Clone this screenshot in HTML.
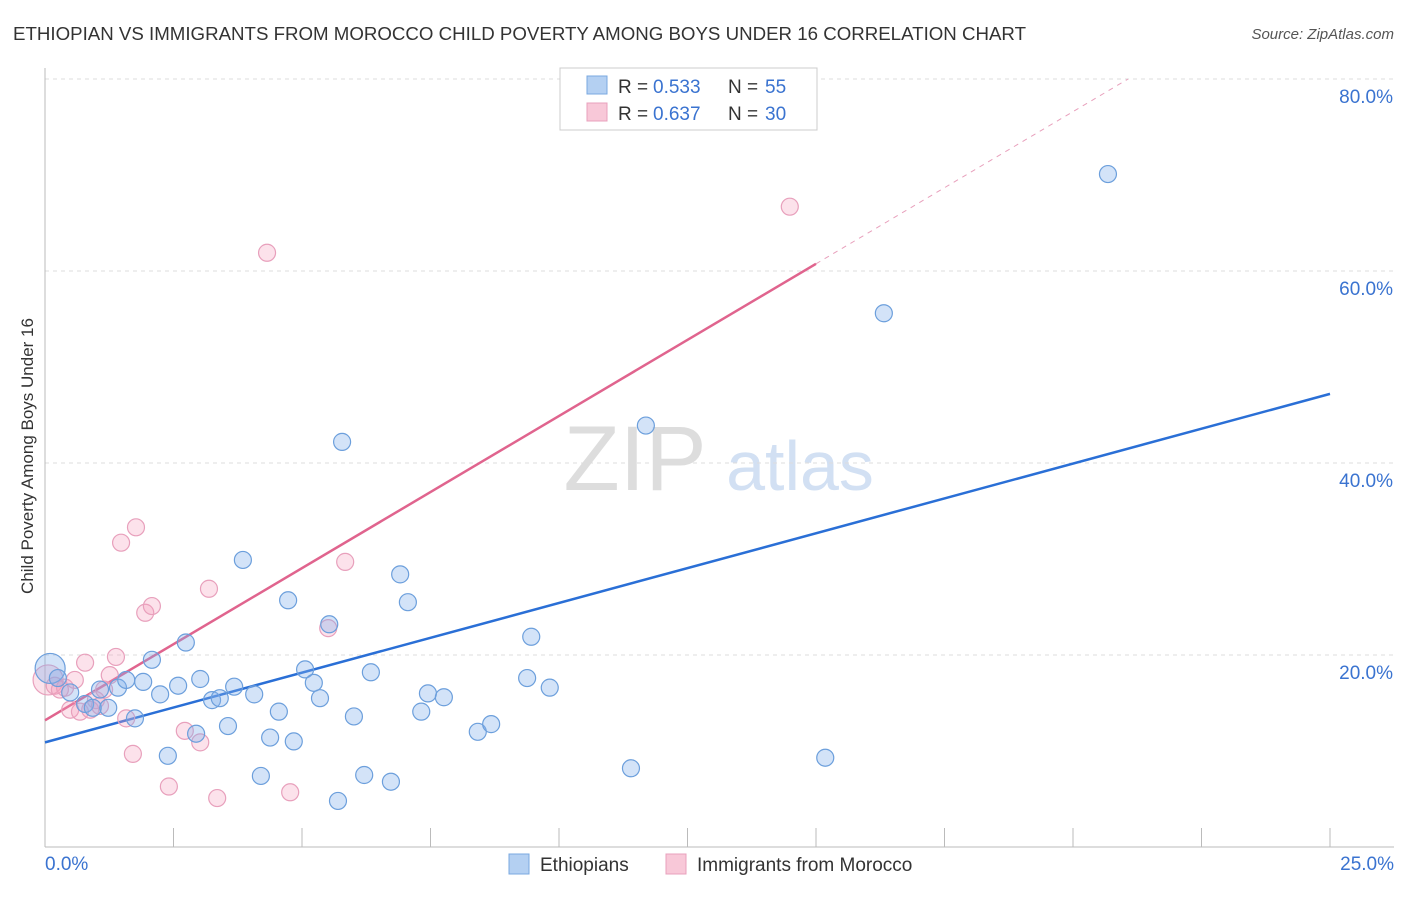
<!DOCTYPE html>
<html><head><meta charset="utf-8"><style>
body{margin:0;background:#fff;font-family:"Liberation Sans",sans-serif;}
svg text{font-family:"Liberation Sans",sans-serif;}
</style></head><body>
<svg id="chart" width="1406" height="892" xmlns="http://www.w3.org/2000/svg">
<text x="13" y="40" font-size="18" fill="#333" textLength="1013" lengthAdjust="spacingAndGlyphs">ETHIOPIAN VS IMMIGRANTS FROM MOROCCO CHILD POVERTY AMONG BOYS UNDER 16 CORRELATION CHART</text>
<text x="1394" y="39" font-size="15" fill="#555" text-anchor="end" font-style="italic">Source: ZipAtlas.com</text>
<text transform="translate(33,456) rotate(-90)" font-size="17" fill="#333" text-anchor="middle">Child Poverty Among Boys Under 16</text>
<g><text x="635" y="490" font-size="92" fill="#ddd" text-anchor="middle" font-family="Liberation Serif">ZIP</text><text x="800" y="490" font-size="70" fill="#d2e0f3" text-anchor="middle">atlas</text></g>
<g id="grid"></g><g id="lines"></g><g id="pts"></g>
<g>
<rect x="560" y="68" width="257" height="62" fill="#fff" stroke="#ccc"/>
<rect x="587" y="76" width="20" height="18" fill="#b4d0f2" stroke="#7aa8e0"/>
<text x="618" y="93" font-size="19" fill="#333">R =</text><text x="653" y="93" font-size="19" fill="#3a73d0">0.533</text>
<text x="728" y="93" font-size="19" fill="#333">N =</text><text x="765" y="93" font-size="19" fill="#3a73d0">55</text>
<rect x="587" y="103" width="20" height="18" fill="#f8c8d8" stroke="#e8a0bc"/>
<text x="618" y="120" font-size="19" fill="#333">R =</text><text x="653" y="120" font-size="19" fill="#3a73d0">0.637</text>
<text x="728" y="120" font-size="19" fill="#333">N =</text><text x="765" y="120" font-size="19" fill="#3a73d0">30</text>
</g>
<g>
<rect x="509" y="854" width="20" height="20" fill="#b4d0f2" stroke="#7aa8e0"/>
<text x="540" y="871" font-size="19" fill="#333">Ethiopians</text>
<rect x="666" y="854" width="20" height="20" fill="#f8c8d8" stroke="#e8a0bc"/>
<text x="697" y="871" font-size="19" fill="#333">Immigrants from Morocco</text>
</g>
</svg>
<script>
const yTicks=[20,40,60,80];
const blueX=[0.10,0.25,0.49,0.78,0.93,1.07,1.23,1.42,1.58,1.75,1.91,2.08,2.24,2.39,2.59,2.74,2.94,3.02,3.25,3.40,3.56,3.68,3.85,4.07,4.20,4.38,4.55,4.73,4.84,5.06,5.23,5.35,5.53,5.70,5.78,6.01,6.21,6.34,6.73,6.91,7.06,7.32,7.45,7.76,8.42,8.68,9.38,9.46,9.82,11.40,11.69,15.18,16.32,20.68];
const blueY=[18.6,17.6,16.1,14.9,14.5,16.4,14.5,16.6,17.4,13.4,17.2,19.5,15.9,9.5,16.8,21.3,11.8,17.5,15.3,15.5,12.6,16.7,29.9,15.9,7.4,11.4,14.1,25.7,11.0,18.5,17.1,15.5,23.2,4.8,42.2,13.6,7.5,18.2,6.8,28.4,25.5,14.1,16.0,15.6,12.0,12.8,17.6,21.9,16.6,8.2,43.9,9.3,55.6,70.1];
const pinkX=[0.06,0.19,0.29,0.39,0.49,0.58,0.68,0.78,0.88,0.99,1.07,1.15,1.26,1.38,1.48,1.58,1.71,1.77,1.95,2.08,2.41,2.72,3.02,3.19,3.35,4.32,4.77,5.51,5.84,14.49];
const pinkY=[17.4,16.8,16.4,16.6,14.3,17.4,14.1,19.2,14.3,15.3,14.7,16.4,17.9,19.8,31.7,13.4,9.7,33.3,24.4,25.1,6.3,12.1,10.9,26.9,5.1,61.9,5.7,22.8,29.7,66.7];
const blueLine=[10.9,47.2];
const pinkLine=[13.2,3.17];
const X=v=>45+v*51.4, Y=v=>847-v*9.6;
const NS="http://www.w3.org/2000/svg";
function mk(tag,a,p){const e=document.createElementNS(NS,tag);for(const k in a)e.setAttribute(k,a[k]);p.appendChild(e);return e;}
const g=document.getElementById('grid');
yTicks.forEach(t=>{
 const l=mk('line',{x1:45,x2:1394,y1:Y(t),y2:Y(t),stroke:'#ddd','stroke-dasharray':'4,4'},g);
 
 
 const tx=mk('text',{x:1393,y:Y(t)+24,'font-size':19,fill:'#3a73d0','text-anchor':'end'},g);tx.textContent=t.toFixed(1)+'%';
 
 
});
mk('line',{x1:45,x2:45,y1:68,y2:847,stroke:'#bbb'},g);
mk('line',{x1:45,x2:1394,y1:847,y2:847,stroke:'#bbb'},g);
for(let i=0;i<=10;i++){mk('line',{x1:X(i*2.5),x2:X(i*2.5),y1:828,y2:847,stroke:'#bbb'},g);}
let t0=mk('text',{x:45,y:870,'font-size':19,fill:'#3a73d0'},g);t0.textContent='0.0%';


let t1=mk('text',{x:1394,y:870,'font-size':19,fill:'#3a73d0','text-anchor':'end'},g);t1.textContent='25.0%';


const pg=document.getElementById('pts');
function dots(xs,ys,fill,stroke,name){xs.forEach((x,i)=>{
 const c=mk('circle',{cx:X(x),cy:Y(ys[i]),r:i==0?15:8.5,fill:fill,stroke:stroke,'stroke-width':1.2},pg);
 
 
});}
dots(pinkX,pinkY,'rgba(244,160,190,0.3)','#e8a0bc','morocco-point');
dots(blueX,blueY,'rgba(130,175,235,0.35)','#6c9fdc','ethiopian-point');
const lg=document.getElementById('lines');
const bl=mk('line',{x1:X(0),y1:Y(blueLine[0]),x2:X(25),y2:Y(blueLine[1]),stroke:'#2a6fd6','stroke-width':2.5},lg);


const pl=mk('line',{x1:X(0),y1:Y(pinkLine[0]),x2:X(15),y2:Y(pinkLine[0]+pinkLine[1]*15),stroke:'#e0648e','stroke-width':2.5},lg);


const xe=(80-pinkLine[0])/pinkLine[1];
const pd=mk('line',{x1:X(15),y1:Y(pinkLine[0]+pinkLine[1]*15),x2:X(xe),y2:Y(80),stroke:'#e8a0bc','stroke-width':1,'stroke-dasharray':'5,5'},lg);


</script>
</body></html>
